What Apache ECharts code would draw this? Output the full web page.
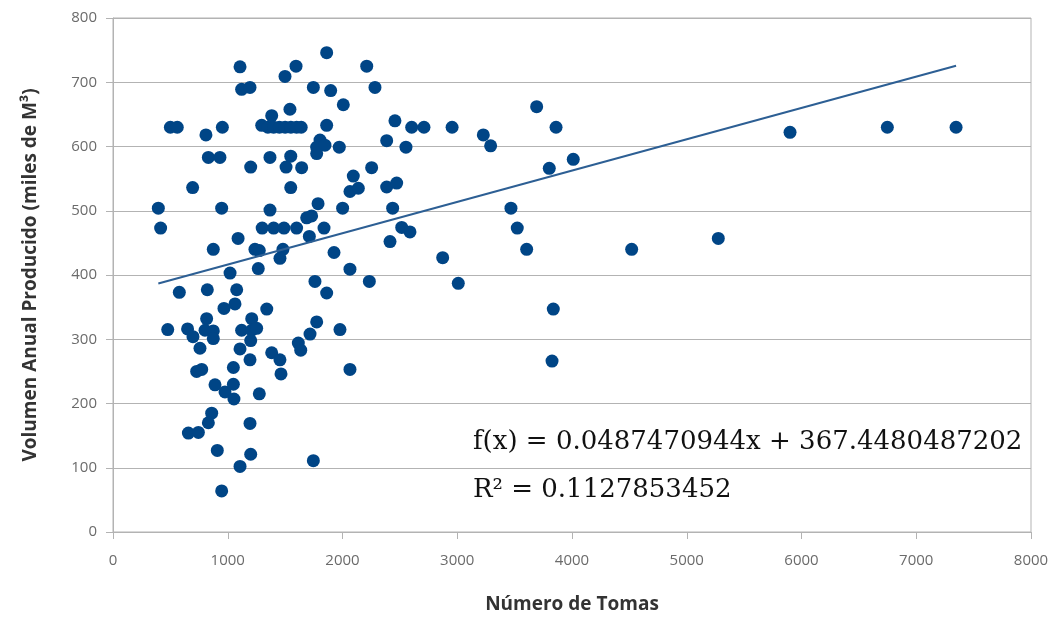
<!DOCTYPE html>
<html>
<head>
<meta charset="utf-8">
<title>Número de Tomas vs Volumen Anual Producido</title>
<script src="https://cdn.jsdelivr.net/npm/echarts@6/dist/echarts.min.js"></script>
<style>
  html, body { margin: 0; padding: 0; background: #ffffff; }
  #chart { width: 1059px; height: 618px; }
</style>
</head>
<body>
<div id="chart"></div>
<script>
// Number of connections (x) and annual volume produced, thousands of m³ (y)
const tomas = [
  1107, 1595, 1862, 2211, 1499, 1121, 1194, 1746, 1897, 2283,
  2007, 1542, 3692, 1383, 500, 560, 810, 953, 1296, 1350,
  1400, 1450, 1500, 1550, 1600, 1640, 1862, 2457, 2603, 2710,
  2955, 3227, 3291, 3861, 5900, 6748, 7347, 1804, 1775, 1847,
  1972, 2385, 2553, 1775, 831, 932, 1368, 1549, 1200, 1508,
  1644, 2254, 3802, 4011, 2094, 694, 1549, 2065, 2138, 2385,
  2472, 1787, 395, 947, 1368, 2001, 2437, 3468, 1688, 1731,
  415, 1300, 1400, 1490, 1600, 1839, 2516, 2588, 3523, 1090,
  1711, 2414, 874, 1237, 1275, 1481, 3605, 4520, 5275, 1926,
  1455, 2873, 1266, 2065, 1020, 1760, 2234, 3009, 578, 822,
  1078, 1862, 967, 1063, 1340, 3837, 1775, 1717, 1978, 477,
  650, 697, 816, 802, 874, 874, 1209, 1121, 1209, 1252,
  1200, 758, 1107, 1615, 1636, 1194, 1383, 1455, 1464, 3826,
  729, 773, 1049, 2065, 889, 976, 1049, 1054, 1275, 860,
  831, 657, 744, 1194, 909, 1200, 1107, 947, 1746
];
const volumen = [
  724, 725, 746, 725, 709, 689, 692, 692, 687, 692,
  665, 658, 662, 648, 630, 630, 618, 630, 633, 630,
  630, 630, 630, 630, 630, 630, 633, 640, 630, 630,
  630, 618, 601, 630, 622, 630, 630, 610, 599, 602,
  599, 609, 599, 589, 583, 583, 583, 585, 568, 568,
  567, 567, 566, 580, 554, 536, 536, 530, 535, 537,
  543, 511, 504, 504, 501, 504, 504, 504, 489, 492,
  473, 473, 473, 473, 473, 473, 474, 467, 473, 457,
  460, 452, 440, 440, 438, 440, 440, 440, 457, 435,
  426, 427, 410, 409, 403, 390, 390, 387, 373, 377,
  377, 372, 348, 355, 347, 347, 327, 308, 315, 315,
  316, 304, 332, 314, 313, 301, 332, 314, 314, 317,
  298, 286, 285, 294, 283, 268, 279, 268, 246, 266,
  250, 253, 256, 253, 229, 218, 230, 207, 215, 185,
  170, 154, 155, 169, 127, 121, 102, 64, 111
];

// Linear trend: f(x) = slope * x + intercept
const slope = 0.0487470944;
const intercept = 367.4480487202;
const trendText = 'f(x) = 0.0487470944x + 367.4480487202';
const r2Text = 'R² = 0.1127853452';

const xTitle = 'Número de Tomas';
const yTitle = 'Volumen Anual Producido (miles de M³)';

const points = tomas.map((x, i) => [x, volumen[i]]);
const xMin = Math.min(...tomas);
const xMax = Math.max(...tomas);
const trendLine = [[xMin, slope * xMin + intercept], [xMax, slope * xMax + intercept]];

const gridGray = '#b3b3b3';
const labelGray = '#6b6b6b';
const titleColor = '#333333';
const uiFont = '"Open Sans", "Noto Sans", sans-serif';
const mathFont = '26px "DejaVu Serif", "Liberation Serif", serif';

const chart = echarts.init(document.getElementById('chart'), null, { renderer: 'canvas' });

chart.setOption({
  backgroundColor: '#ffffff',
  animation: false,
  grid: {
    left: 113, top: 18, width: 918, height: 514,
    outerBoundsMode: 'none', containLabel: false,
    show: true, borderColor: gridGray, borderWidth: 1, backgroundColor: 'transparent'
  },
  xAxis: {
    type: 'value', min: 0, max: 8000, interval: 1000,
    name: xTitle, nameLocation: 'middle', nameGap: 63,
    nameTextStyle: { fontFamily: uiFont, fontSize: 19, fontWeight: 'bold', color: titleColor },
    axisLine: { show: true, lineStyle: { color: gridGray, width: 1 } },
    axisTick: { show: true, length: 7, lineStyle: { color: gridGray } },
    axisLabel: { fontFamily: uiFont, fontSize: 15, color: labelGray, margin: 21,
                 formatter: v => String(v) },
    splitLine: { show: false }
  },
  yAxis: {
    type: 'value', min: 0, max: 800, interval: 100,
    name: yTitle, nameLocation: 'middle', nameGap: 73, nameRotate: 90,
    nameTextStyle: { fontFamily: uiFont, fontSize: 19, fontWeight: 'bold', color: titleColor },
    axisLine: { show: true, lineStyle: { color: gridGray, width: 1 } },
    axisTick: { show: true, length: 7, lineStyle: { color: gridGray } },
    axisLabel: { fontFamily: uiFont, fontSize: 15, color: labelGray, margin: 16,
                 formatter: v => String(v) },
    splitLine: { show: true, lineStyle: { color: gridGray, width: 1 } }
  },
  series: [
    {
      type: 'scatter',
      data: points,
      symbol: 'circle',
      symbolSize: 13,
      itemStyle: { color: '#004586', opacity: 1 },
      z: 3
    },
    {
      type: 'line',
      data: trendLine,
      symbol: 'none',
      lineStyle: { color: '#2d5f94', width: 2 },
      z: 4
    }
  ],
  graphic: [
    {
      type: 'text', left: 473, top: 429, z: 10,
      style: { text: trendText, font: mathFont, fill: '#111111' }
    },
    {
      type: 'text', left: 473, top: 477, z: 10,
      style: { text: r2Text, font: mathFont, fill: '#111111' }
    }
  ]
});
</script>
</body>
</html>
